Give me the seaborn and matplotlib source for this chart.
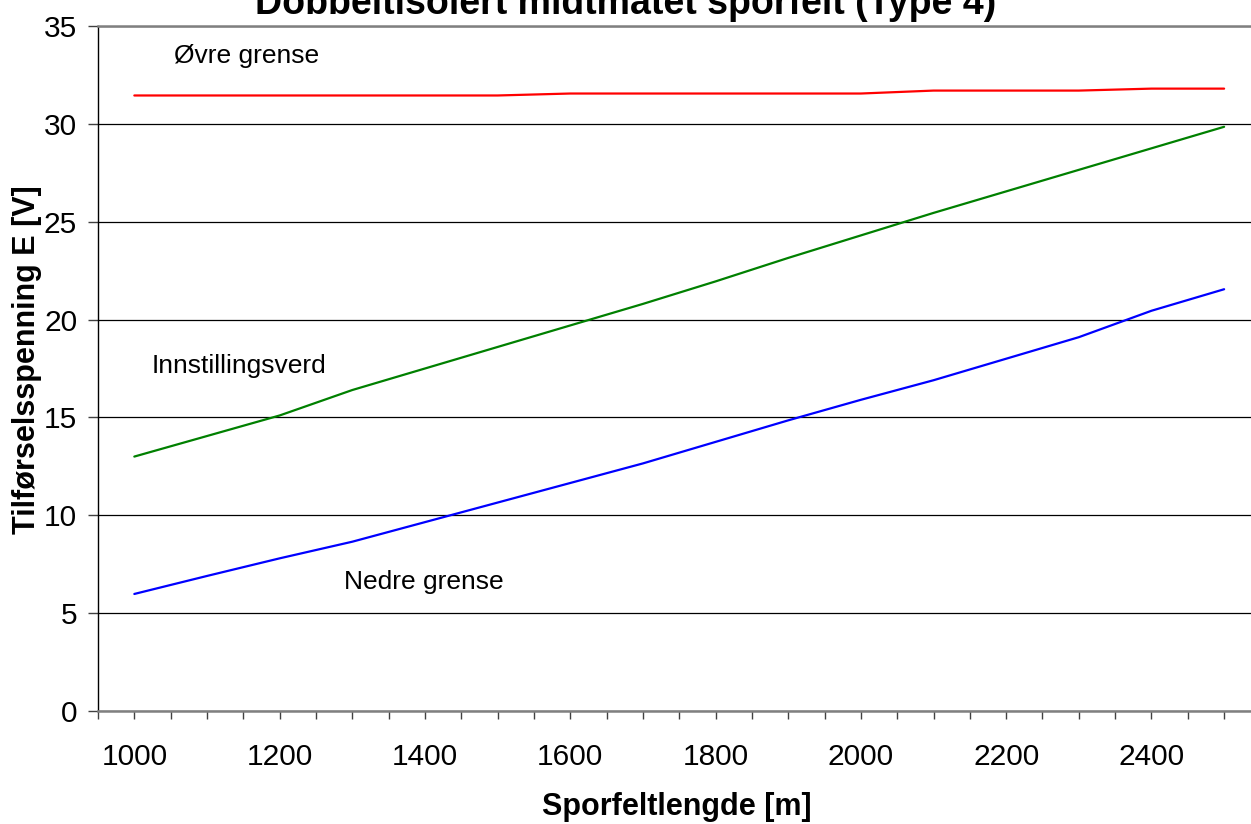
import matplotlib
matplotlib.use("Agg")
import matplotlib.pyplot as plt
from matplotlib.ticker import MultipleLocator
import pandas as pd
import seaborn as sns

# Track-circuit length [m]
lengths = [1000, 1100, 1200, 1300, 1400, 1500, 1600, 1700,
           1800, 1900, 2000, 2100, 2200, 2300, 2400, 2500]

# Supply voltage E [V]
upper_limit = [31.45, 31.45, 31.45, 31.45, 31.45, 31.45, 31.55, 31.55,
               31.55, 31.55, 31.55, 31.7, 31.7, 31.7, 31.8, 31.8]
setpoint = [13.0, 14.05, 15.1, 16.4, 17.5, 18.6, 19.7, 20.8,
            21.95, 23.15, 24.3, 25.45, 26.55, 27.65, 28.75, 29.85]
lower_limit = [5.98, 6.9, 7.8, 8.65, 9.65, 10.65, 11.65, 12.65,
               13.75, 14.85, 15.9, 16.9, 18.0, 19.1, 20.45, 21.55]

series_names = ["Øvre grense", "Innstillingsverd", "Nedre grense"]
series_colors = ["#FF0000", "#008000", "#0000FF"]
y_ticks = [0, 5, 10, 15, 20, 25, 30, 35]

title = "Dobbeltisolert midtmatet sporfelt (Type 4)"
x_label = "Sporfeltlengde [m]"
y_label = "Tilførselsspenning E [V]"

sns.set_theme(style="white")
plt.rcParams["font.family"] = ["Liberation Sans", "DejaVu Sans"]
plt.rcParams["text.color"] = "black"
plt.rcParams["axes.labelcolor"] = "black"

df = pd.concat([
    pd.DataFrame({"lengde": lengths, "spenning": vals, "serie": name})
    for name, vals in zip(series_names, [upper_limit, setpoint, lower_limit])
], ignore_index=True)

W, H = 1251, 824
fig = plt.figure(figsize=(W / 100, H / 100), dpi=100)
left_px, right_px, top_px, bottom_px = 98, 1251, 26, 711
ax = fig.add_axes([left_px / W, 1 - bottom_px / H,
                   (right_px - left_px) / W, (bottom_px - top_px) / H])

sns.lineplot(data=df, x="lengde", y="spenning", hue="serie",
             palette=dict(zip(series_names, series_colors)),
             linewidth=1.6, legend=False, ax=ax, zorder=3)

ax.set_xlim(950, 2537)
ax.set_ylim(0, 35)
ax.set_yticks(y_ticks)
ax.xaxis.set_major_locator(MultipleLocator(200))
ax.xaxis.set_minor_locator(MultipleLocator(50))

ax.yaxis.grid(True, color="black", linewidth=0.9)
ax.xaxis.grid(False)
ax.set_axisbelow(True)

for side in ["top", "bottom"]:
    ax.spines[side].set_color("#808080")
    ax.spines[side].set_linewidth(1.8)
ax.spines["left"].set_color("black")
ax.spines["left"].set_linewidth(1.0)
ax.spines["right"].set_visible(False)

ax.tick_params(axis="x", which="both", bottom=True, direction="out",
               length=6, width=1, color="#404040", labelsize=21.5, pad=17,
               labelcolor="black")
ax.tick_params(axis="y", which="both", left=True, direction="out",
               length=7, width=1, color="#404040", labelsize=21.5, pad=8,
               labelcolor="black")

ax.set_xlabel(x_label, fontsize=22, fontweight="bold", color="black")
ax.xaxis.set_label_coords((677 - left_px) / (right_px - left_px),
                          (bottom_px - 807) / (bottom_px - top_px))
ax.xaxis.label.set_va("center")
ax.set_ylabel(y_label, fontsize=22, fontweight="bold", color="black")
ax.yaxis.set_label_coords((27 - left_px) / (right_px - left_px),
                          (bottom_px - 360) / (bottom_px - top_px))
ax.yaxis.label.set_va("center")

# Series labels inside the plot
ax.text(1054, 33.46, series_names[0], fontsize=19, va="center", color="black")
ax.text(1024, 17.64, series_names[1], fontsize=19, va="center", color="black")
ax.text(1288, 6.6, series_names[2], fontsize=19, va="center", color="black")

fig.text(0.5, 1 - 14 / H, title, ha="center", va="baseline",
         fontsize=27, fontweight="bold", color="black")

fig.savefig("out.png", dpi=100)
